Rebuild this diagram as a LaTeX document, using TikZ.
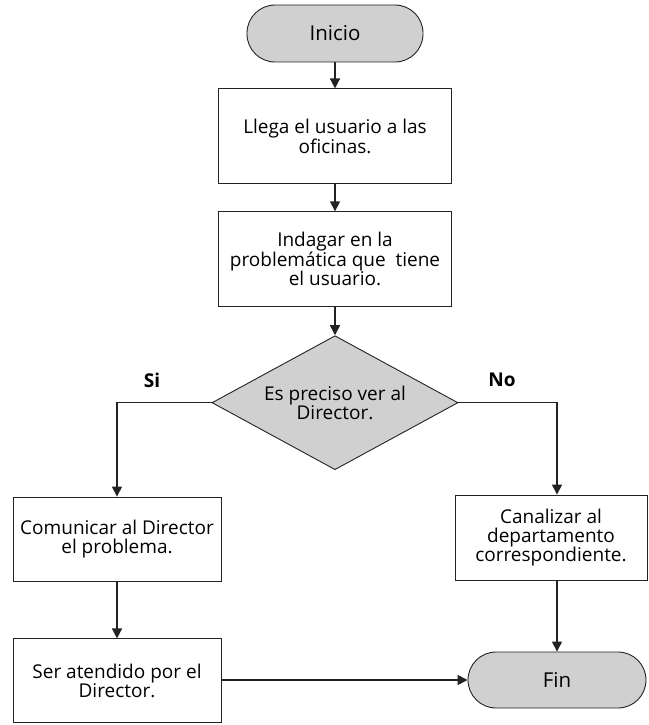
\documentclass[tikz,border=0pt]{standalone}
\usepackage{fontspec}
\setmainfont{Open Sans}
\usetikzlibrary{positioning,shapes.geometric,arrows.meta}
\definecolor{fillgray}{RGB}{208,208,208}
\definecolor{linegray}{RGB}{35,35,35}

\begin{document}
\begin{tikzpicture}[x=1pt,y=1pt,node distance=27pt,
box/.style={draw=linegray, line width=0.9pt, fill=white, align=center,
  minimum width=233pt, minimum height=95pt, font=\fontsize{19}{19}\selectfont},
term/.style={draw=linegray, line width=0.9pt, fill=fillgray, rounded corners=28pt,
  minimum width=176pt, minimum height=57pt, font=\fontsize{20.5}{22}\selectfont},
decision/.style={diamond, draw=linegray, line width=0.9pt, fill=fillgray, align=center,
  aspect=1.84, inner sep=0pt, minimum width=246pt, minimum height=134pt,
  font=\fontsize{19}{19}\selectfont},
lbl/.style={font=\fontsize{19}{19}\selectfont\bfseries},
arr/.style={-{Triangle[width=10pt,length=10pt]}, line width=1.4pt, draw=linegray}]

\useasboundingbox (0,0) rectangle (648,-725);

\node[term] (inicio) at (335,-33.5) {Inicio};
\node[box, below=26pt of inicio] (llega) {Llega el usuario a las\\oficinas.};
\node[box, below=27pt of llega] (indagar) {Indagar en la\\problemática que~ tiene\\el usuario.};
\node[decision, below=28pt of indagar] (pregunta) {Es preciso ver al\\Director.};

\node[lbl] (si) at (152,-380) {Si};
\node[lbl] (no) at (502,-380) {No};

\node[box, minimum width=208pt, minimum height=84pt] (comunicar) at (117,-539)
  {Comunicar al Director\\el problema.};
\node[box, minimum width=208pt, minimum height=84pt, below=57pt of comunicar] (atendido)
  {Ser atendido por el\\Director.};
\node[box, minimum width=192pt, minimum height=85pt] (canalizar) at (551,-537.5)
  {Canalizar al\\departamento\\correspondiente.};
\node[term, minimum width=178pt, minimum height=56pt] (fin) at (557,-680) {Fin};

\draw[arr] (inicio) -- (llega);
\draw[arr] (llega) -- (indagar);
\draw[arr] (indagar) -- (pregunta);
\draw[arr] (pregunta.west) -| (comunicar.north);
\draw[arr] (pregunta.east) -| (fin.north |- canalizar.north);
\draw[arr] (comunicar) -- (atendido);
\draw[arr] (fin.north |- canalizar.south) -- (fin.north);
\draw[arr] (atendido.east |- fin.west) -- (fin.west);

\end{tikzpicture}
\end{document}
